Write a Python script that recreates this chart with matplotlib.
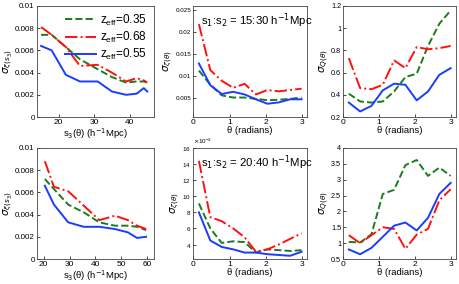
import matplotlib
matplotlib.use("Agg")
import matplotlib.pyplot as plt
from matplotlib.ticker import ScalarFormatter
import numpy as np

# bin centres in theta (radians)
theta = [0.157, 0.471, 0.785, 1.100, 1.414, 1.728, 2.042, 2.356, 2.670, 2.985]

labels = ['z$_\\mathregular{eff}$=0.35', 'z$_\\mathregular{eff}$=0.68', 'z$_\\mathregular{eff}$=0.55']

# top row: s1:s2 = 15:30
s3_top = [15, 18, 22, 26, 31, 35, 39, 42, 44, 45]
xi_top_035 = [0.0074, 0.0074, 0.0063, 0.0052, 0.0043, 0.0036, 0.0031, 0.0032, 0.0032, 0.0031]
xi_top_068 = [0.0081, 0.0074, 0.0063, 0.0046, 0.0047, 0.0040, 0.0032, 0.0035, 0.0033, 0.0031]
xi_top_055 = [0.0064, 0.0060, 0.0038, 0.0032, 0.0032, 0.0023, 0.0020, 0.0021, 0.0026, 0.0023]

zeta_top_035 = [0.0112, 0.0080, 0.0056, 0.0051, 0.0051, 0.0048, 0.0045, 0.0046, 0.0048, 0.0051]
zeta_top_068 = [0.0217, 0.0113, 0.0089, 0.0073, 0.0082, 0.0058, 0.0068, 0.0065, 0.0068, 0.0071]
zeta_top_055 = [0.0128, 0.0079, 0.0059, 0.0064, 0.0058, 0.0047, 0.0037, 0.0040, 0.0047, 0.0047]

q_top_035 = [0.41, 0.34, 0.33, 0.34, 0.43, 0.56, 0.59, 0.84, 1.04, 1.16]
q_top_068 = [0.73, 0.46, 0.45, 0.49, 0.71, 0.64, 0.83, 0.81, 0.82, 0.84]
q_top_055 = [0.33, 0.25, 0.30, 0.44, 0.50, 0.49, 0.35, 0.43, 0.58, 0.64]

# bottom row: s1:s2 = 20:40
s3_bot = [20.5, 24, 29.5, 35.5, 41.5, 47.5, 52.5, 56, 59.5]
xi_bot_035 = [0.0072, 0.0063, 0.0049, 0.0042, 0.0033, 0.0030, 0.0030, 0.0029, 0.0026]
xi_bot_068 = [0.0088, 0.0065, 0.0061, 0.0048, 0.0035, 0.0039, 0.0035, 0.0030, 0.0027]
xi_bot_055 = [0.0066, 0.0049, 0.0033, 0.0029, 0.0029, 0.0027, 0.0024, 0.0019, 0.0020]

zeta_bot_035 = [9.1e-3, 6.0e-3, 4.2e-3, 4.4e-3, 4.3e-3, 3.0e-3, 3.4e-3, 3.3e-3, 3.2e-3, 3.3e-3]
zeta_bot_068 = [14.4e-3, 7.4e-3, 6.9e-3, 6.0e-3, 4.9e-3, 3.1e-3, 3.4e-3, 4.0e-3, 4.7e-3, 5.4e-3]
zeta_bot_055 = [8.0e-3, 4.5e-3, 3.7e-3, 3.4e-3, 3.0e-3, 3.0e-3, 2.8e-3, 2.7e-3, 2.6e-3, 3.1e-3]

q_bot_035 = [1.04, 1.02, 1.28, 2.55, 2.68, 3.46, 3.62, 3.12, 3.38, 3.12]
q_bot_068 = [1.25, 1.00, 1.25, 1.50, 1.45, 0.82, 1.27, 1.45, 2.35, 2.70]
q_bot_055 = [0.80, 0.65, 0.85, 1.20, 1.55, 1.65, 1.40, 1.80, 2.55, 2.90]

c_green = '#1e7a1e'
c_red = '#ff1010'
c_blue = '#1a3cff'
lw = 1.4

plt.rcParams['font.family'] = ['Liberation Sans', 'DejaVu Sans']
plt.rcParams['mathtext.fontset'] = 'dejavusans'

fig = plt.figure(figsize=(4.6, 2.84), dpi=100)

lefts = [0.080, 0.420, 0.746]
widths = [0.254, 0.248, 0.246]
bottoms = [0.588, 0.088]
height = 0.391
tick_sizes = [5.8, 4.5, 5.2]

axes = [[fig.add_axes([lefts[c], bottoms[r], widths[c], height]) for c in range(3)]
        for r in range(2)]


def draw(ax, x, g, r, b, ts):
    ax.plot(x, g, '--', color=c_green, lw=lw, label=labels[0])
    ax.plot(x, r, '-.', color=c_red, lw=lw, label=labels[1])
    ax.plot(x, b, '-', color=c_blue, lw=lw, label=labels[2])
    ax.tick_params(direction='in', length=2, width=0.5, pad=1.5, labelsize=ts)
    ax.tick_params(axis='x', labelsize=6)
    for sp in ax.spines.values():
        sp.set_linewidth(0.6)
        sp.set_color('#444444')


xi_label = r'$\sigma_{\xi(s_3)}$'
zeta_label = r'$\sigma_{\zeta(\theta)}$'
q_label = r'$\sigma_{Q(\theta)}$'
s3_label = 's$_3$(θ) (h$^{-1}$Mpc)'
th_label = 'θ (radians)'
ax_fs = 6.8
yl_fs = 7.5
ann_fs = 8.2

# top row
ax = axes[0][0]
draw(ax, s3_top, xi_top_035, xi_top_068, xi_top_055, tick_sizes[0])
ax.set_xlim(13.8, 46.8)
ax.set_ylim(0, 0.01)
ax.set_yticks([0, 0.002, 0.004, 0.006, 0.008, 0.01])
ax.set_yticklabels(['0', '0.002', '0.004', '0.006', '0.008', '0.01'])
ax.set_xticks([20, 30, 40])
ax.set_xlabel(s3_label, fontsize=ax_fs, labelpad=0)
ax.set_ylabel(xi_label, fontsize=yl_fs, labelpad=0)
ax.legend(loc='upper right', frameon=False, fontsize=8.5, handlelength=2.6,
          handletextpad=0.4, labelspacing=0.2, borderaxespad=0.15)

ax = axes[0][1]
draw(ax, theta, zeta_top_035, zeta_top_068, zeta_top_055, tick_sizes[1])
ax.set_xlim(0, np.pi)
ax.set_ylim(0.0007, 0.0258)
ax.set_yticks([0.005, 0.01, 0.015, 0.02, 0.025])
ax.set_yticklabels(['0.005', '0.01', '0.015', '0.02', '0.025'])
ax.set_xticks([0, 1, 2, 3])
ax.set_xlabel(th_label, fontsize=ax_fs, labelpad=0)
ax.set_ylabel(zeta_label, fontsize=yl_fs, labelpad=0)
ax.text(0.07, 0.95, 's$_1$:s$_2$ = 15:30 h$^{-1}$Mpc', transform=ax.transAxes,
        fontsize=ann_fs, va='top')

ax = axes[0][2]
draw(ax, theta, q_top_035, q_top_068, q_top_055, tick_sizes[2])
ax.set_xlim(0, np.pi)
ax.set_ylim(0.2, 1.2)
ax.set_yticks([0.2, 0.4, 0.6, 0.8, 1.0, 1.2])
ax.set_yticklabels(['0.2', '0.4', '0.6', '0.8', '1', '1.2'])
ax.set_xticks([0, 1, 2, 3])
ax.set_xlabel(th_label, fontsize=ax_fs, labelpad=0)
ax.set_ylabel(q_label, fontsize=yl_fs, labelpad=0)

# bottom row
ax = axes[1][0]
draw(ax, s3_bot, xi_bot_035, xi_bot_068, xi_bot_055, tick_sizes[0])
ax.set_xlim(17.4, 62.4)
ax.set_ylim(0, 0.01)
ax.set_yticks([0, 0.002, 0.004, 0.006, 0.008, 0.01])
ax.set_yticklabels(['0', '0.002', '0.004', '0.006', '0.008', '0.01'])
ax.set_xticks([20, 30, 40, 50, 60])
ax.set_xlabel(s3_label, fontsize=ax_fs, labelpad=0)
ax.set_ylabel(xi_label, fontsize=yl_fs, labelpad=0)

ax = axes[1][1]
draw(ax, theta, zeta_bot_035, zeta_bot_068, zeta_bot_055, tick_sizes[1])
ax.set_xlim(0, np.pi)
ax.set_ylim(2.2e-3, 16e-3)
ax.set_yticks([4e-3, 6e-3, 8e-3, 10e-3, 12e-3, 14e-3, 16e-3])
fmt = ScalarFormatter(useMathText=True)
fmt.set_powerlimits((-3, -3))
ax.yaxis.set_major_formatter(fmt)
ax.yaxis.get_offset_text().set_fontsize(4.5)
ax.set_xticks([0, 1, 2, 3])
ax.set_xlabel(th_label, fontsize=ax_fs, labelpad=0)
ax.set_ylabel(zeta_label, fontsize=yl_fs, labelpad=0)
ax.text(0.07, 0.95, 's$_1$:s$_2$ = 20:40 h$^{-1}$Mpc', transform=ax.transAxes,
        fontsize=ann_fs, va='top')

ax = axes[1][2]
draw(ax, theta, q_bot_035, q_bot_068, q_bot_055, tick_sizes[2])
ax.set_xlim(0, np.pi)
ax.set_ylim(0.5, 4)
ax.set_yticks([0.5, 1, 1.5, 2, 2.5, 3, 3.5, 4])
ax.set_yticklabels(['0.5', '1', '1.5', '2', '2.5', '3', '3.5', '4'])
ax.set_xticks([0, 1, 2, 3])
ax.set_xlabel(th_label, fontsize=ax_fs, labelpad=0)
ax.set_ylabel(q_label, fontsize=yl_fs, labelpad=0)

fig.savefig('out.png', dpi=100)
